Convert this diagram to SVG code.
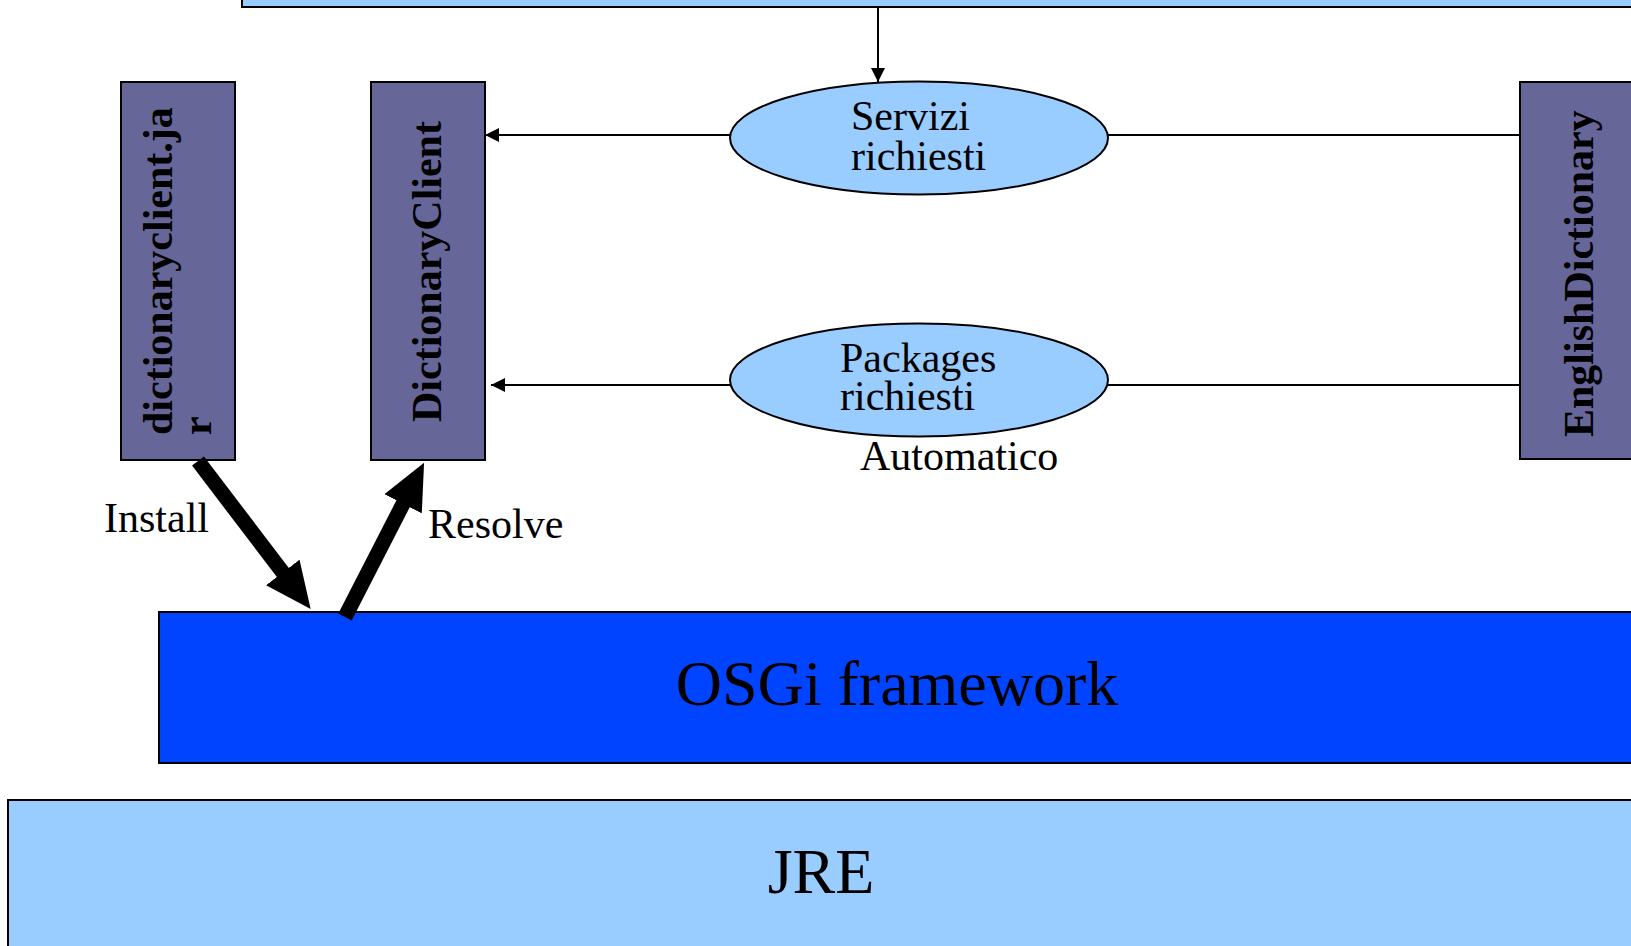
<svg xmlns="http://www.w3.org/2000/svg" width="1631" height="946" viewBox="0 0 1631 946">
<style>
.t{font-family:"Liberation Serif","Times New Roman",serif;font-size:42px;fill:#000}
.b{font-weight:bold}
.big{font-size:64px}
.bundle{fill:#666699;stroke:#000;stroke-width:2}
.ell{fill:#99ccff;stroke:#000;stroke-width:2}
.thin{stroke:#000;stroke-width:2;fill:none}
.thick{stroke:#000;stroke-width:15;fill:none}
</style>
<defs>
<marker id="ah" markerUnits="userSpaceOnUse" markerWidth="16" markerHeight="16" refX="14" refY="7" orient="auto">
<path d="M0,0 L14,7 L0,14 Z" fill="#000"/>
</marker>
<marker id="bh" markerUnits="userSpaceOnUse" markerWidth="48" markerHeight="42" refX="2" refY="21" orient="auto">
<path d="M0,0 L46,21 L0,42 Z" fill="#000"/>
</marker>
</defs>
<rect width="1631" height="946" fill="#fff"/>
<g id="top-box"><rect x="242" y="-10" width="1400" height="17" fill="#99ccff" stroke="#000" stroke-width="2"/></g>
<g id="jre"><rect x="8" y="800" width="1640" height="160" fill="#99ccff" stroke="#000" stroke-width="2"/><text class="t big" x="821" y="893" text-anchor="middle">JRE</text></g>
<g id="osgi"><rect x="159" y="612" width="1480" height="151" fill="#0044ff" stroke="#000" stroke-width="2"/><text class="t big" x="897" y="705" text-anchor="middle">OSGi framework</text></g>
<g id="dictionaryclient-jar"><rect class="bundle" x="121" y="82" width="114" height="378"/>
<text class="t b" transform="translate(172,435) rotate(-90)">dictionaryclient.ja</text>
<text class="t b" transform="translate(211,435) rotate(-90)">r</text></g>
<g id="dictionaryclient"><rect class="bundle" x="371" y="82" width="114" height="378"/>
<text class="t b" transform="translate(441,422) rotate(-90)">DictionaryClient</text></g>
<g id="englishdictionary"><rect class="bundle" x="1520" y="82" width="130" height="377"/>
<text class="t b" transform="translate(1593,437) rotate(-90)">EnglishDictionary</text></g>
<g id="servizi"><ellipse class="ell" cx="919" cy="138" rx="189" ry="56.5"/>
<text class="t" x="851" y="130">Servizi</text><text class="t" x="851" y="170">richiesti</text></g>
<g id="packages"><ellipse class="ell" cx="919" cy="380" rx="189" ry="56.5"/>
<text class="t" x="840" y="372">Packages</text><text class="t" x="840" y="410">richiesti</text></g>
<g id="labels">
<text class="t" x="860" y="470">Automatico</text>
<text class="t" x="104" y="532">Install</text>
<text class="t" x="428" y="538">Resolve</text>
</g>
<g id="connectors">
<path class="thin" d="M878,7 L878,82" marker-end="url(#ah)"/>
<path class="thin" d="M730,135 L485,135" marker-end="url(#ah)"/>
<path class="thin" d="M730,385 L491,385" marker-end="url(#ah)"/>
<path class="thin" d="M1108,135 L1520,135"/>
<path class="thin" d="M1108,385 L1520,385"/>
<path class="thick" d="M198,461 L284,574" marker-end="url(#bh)"/>
<path class="thick" d="M345,617 L404,502" marker-end="url(#bh)"/>
</g>
</svg>
